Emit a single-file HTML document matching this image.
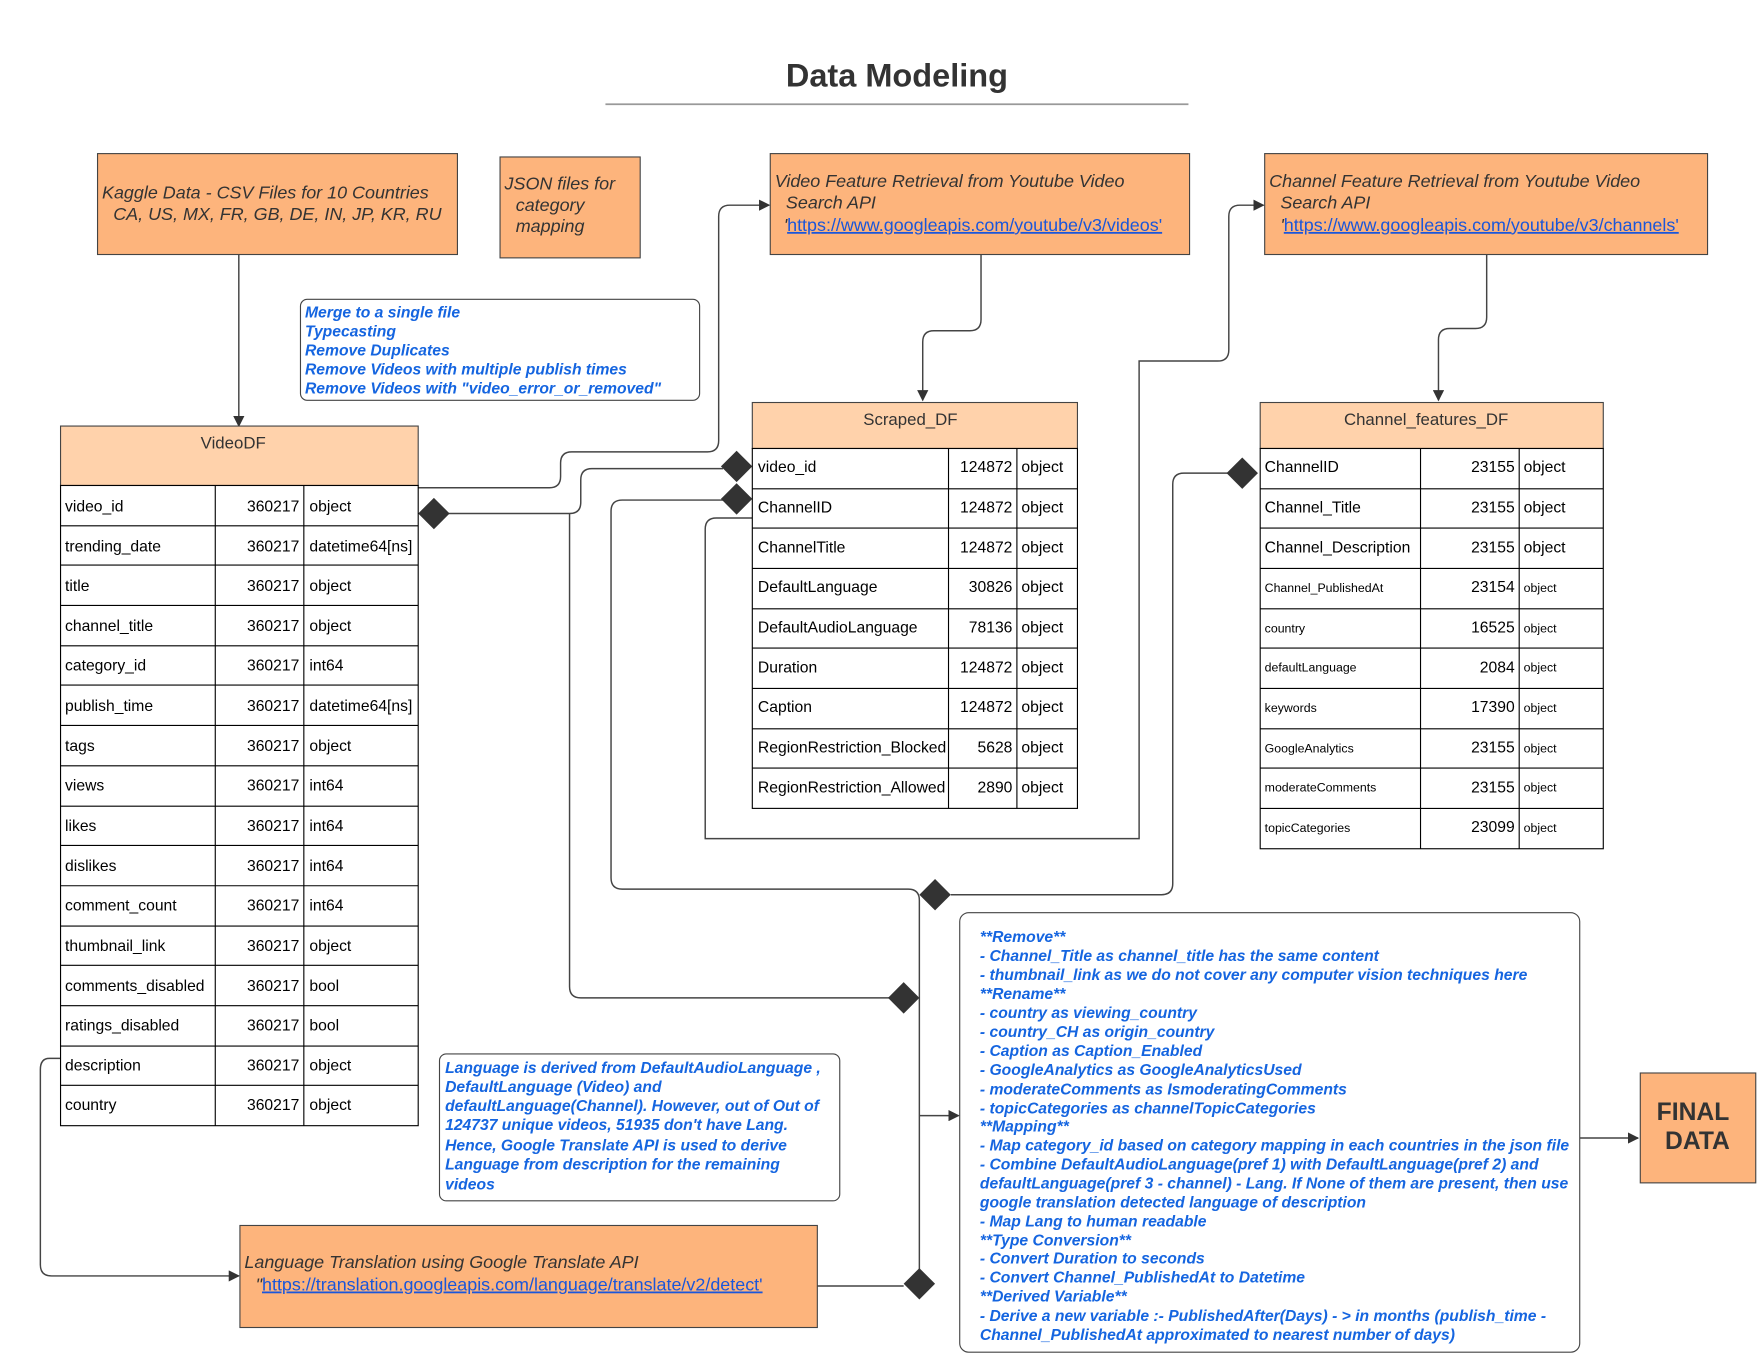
<!DOCTYPE html>
<html><head><meta charset="utf-8"><style>
html,body{margin:0;padding:0;background:#fff;}
svg{display:block;}
text{font-family:"Liberation Sans",sans-serif;}
.t{font-size:14px;fill:#000;}
.s{font-size:11px;fill:#000;}
.n{font-size:14px;fill:#1565e0;font-weight:bold;font-style:italic;}
.b{font-size:16px;fill:#333;font-style:italic;}
.l{font-size:16px;fill:#1a56db;text-decoration:underline;font-style:normal;}
.ln{fill:none;stroke:#444;stroke-width:1.3;}
</style></head><body>
<svg width="1758" height="1358" viewBox="0 0 1568 1211.2" preserveAspectRatio="none">
<defs><marker id="a" markerWidth="10" markerHeight="10" refX="9" refY="5" orient="auto" markerUnits="userSpaceOnUse"><path d="M0,0 L10,5 L0,10z" fill="#333"/></marker></defs>
<text x="800" y="77" text-anchor="middle" font-size="29" font-weight="bold" fill="#333">Data Modeling</text>
<line x1="540" y1="93" x2="1060" y2="93" stroke="#999" stroke-width="1.5"/>

<!-- top boxes -->
<rect x="87" y="137" width="321" height="90" fill="#fdb47c" stroke="#444"/>
<text class="b" x="91" y="177">Kaggle Data - CSV Files for 10 Countries</text>
<text class="b" x="101" y="196">CA, US, MX, FR, GB, DE, IN, JP, KR, RU</text>
<rect x="446" y="140" width="125" height="90" fill="#fdb47c" stroke="#444"/>
<text class="b" x="450" y="169">JSON files  for</text>
<text class="b" x="460" y="188">category</text>
<text class="b" x="460" y="207">mapping</text>
<rect x="687" y="137" width="374" height="90" fill="#fdb47c" stroke="#444"/>
<text class="b" x="691" y="167">Video Feature Retrieval from Youtube  Video</text>
<text class="b" x="701" y="186">Search API</text>
<text class="b" x="699" y="206">'<tspan class="l">https://www.googleapis.com/youtube/v3/videos'</tspan></text>
<rect x="1128" y="137" width="395" height="90" fill="#fdb47c" stroke="#444"/>
<text class="b" x="1132" y="167">Channel Feature Retrieval from Youtube  Video</text>
<text class="b" x="1142" y="186">Search API</text>
<text class="b" x="1142" y="206">'<tspan class="l">https://www.googleapis.com/youtube/v3/channels'</tspan></text>

<!-- merge note -->
<rect x="268" y="267" width="356" height="90" rx="6" fill="#fff" stroke="#444"/>
<text class="n" x="272" y="283">Merge to a single file</text>
<text class="n" x="272" y="300">Typecasting</text>
<text class="n" x="272" y="317">Remove Duplicates</text>
<text class="n" x="272" y="334">Remove Videos with multiple publish times</text>
<text class="n" x="272" y="351">Remove Videos with "video_error_or_removed"</text>

<!-- connectors -->
<path class="ln" d="M213,227 V380" marker-end="url(#a)"/>
<path class="ln" d="M373,435 H490 Q500,435 500,425 V413 Q500,403 510,403 H631 Q641,403 641,393 V193 Q641,183 651,183 H686" marker-end="url(#a)"/>
<path class="ln" d="M400,458 H508 Q518,458 518,448 V428 Q518,418 528,418 H645"/>
<path class="ln" d="M508,458 V880 Q508,890 518,890 H793"/>
<path class="ln" d="M645,446 H555 Q545,446 545,456 V783 Q545,793 555,793 H810 Q820,793 820,803 V1147"/>
<path class="ln" d="M848,798 H1036 Q1046,798 1046,788 V432 Q1046,422 1056,422 H1095"/>
<path class="ln" d="M671,462 H639 Q629,462 629,472 V748 H1016 V322 H1086 Q1096,322 1096,312 V193 Q1096,183 1106,183 H1127" marker-end="url(#a)"/>
<path class="ln" d="M875,227 V285 Q875,295 865,295 H833 Q823,295 823,305 V357" marker-end="url(#a)"/>
<path class="ln" d="M1326,227 V283 Q1326,293 1316,293 H1293 Q1283,293 1283,303 V357" marker-end="url(#a)"/>
<path class="ln" d="M54,944 H44 Q36,944 36,954 V1128 Q36,1138 46,1138 H213" marker-end="url(#a)"/>
<path class="ln" d="M729,1147 H806"/>
<path class="ln" d="M820,995 H855" marker-end="url(#a)"/>
<path class="ln" d="M1409,1015 H1461" marker-end="url(#a)"/>
<g fill="#333">
<path d="M387,444 L401,458 L387,472 L373,458z"/>
<path d="M657,402 L671,416 L657,430 L643,416z"/>
<path d="M657,431 L671,445 L657,459 L643,445z"/>
<path d="M1108,408 L1122,422 L1108,436 L1094,422z"/>
<path d="M834,784 L848,798 L834,812 L820,798z"/>
<path d="M806,876 L820,890 L806,904 L792,890z"/>
<path d="M820,1131 L834,1145 L820,1159 L806,1145z"/>
</g>

<!-- VideoDF -->
<rect x="54" y="380" width="319" height="53" fill="#ffd2ab" stroke="#444"/>
<text x="208" y="400" text-anchor="middle" font-size="15" fill="#333">VideoDF</text>
<g stroke="#000" stroke-width="1" fill="none">
<rect x="54" y="433" width="319" height="571" fill="#fff"/>
<line x1="192" y1="433" x2="192" y2="1004"/><line x1="271" y1="433" x2="271" y2="1004"/>
<path d="M54,469H373M54,504H373M54,540H373M54,576H373M54,611H373M54,647H373M54,683H373M54,719H373M54,754H373M54,790H373M54,826H373M54,861H373M54,897H373M54,933H373M54,968H373"/>
</g>
<text class="t" x="58" y="456">video_id</text><text class="t" x="58" y="492">trending_date</text><text class="t" x="58" y="527">title</text><text class="t" x="58" y="563">channel_title</text><text class="t" x="58" y="598">category_id</text><text class="t" x="58" y="634">publish_time</text><text class="t" x="58" y="670">tags</text><text class="t" x="58" y="705">views</text><text class="t" x="58" y="741">likes</text><text class="t" x="58" y="777">dislikes</text><text class="t" x="58" y="812">comment_count</text><text class="t" x="58" y="848">thumbnail_link</text><text class="t" x="58" y="884">comments_disabled</text><text class="t" x="58" y="919">ratings_disabled</text><text class="t" x="58" y="955">description</text><text class="t" x="58" y="990">country</text>
<g text-anchor="end">
<text class="t" x="267" y="456">360217</text><text class="t" x="267" y="492">360217</text><text class="t" x="267" y="527">360217</text><text class="t" x="267" y="563">360217</text><text class="t" x="267" y="598">360217</text><text class="t" x="267" y="634">360217</text><text class="t" x="267" y="670">360217</text><text class="t" x="267" y="705">360217</text><text class="t" x="267" y="741">360217</text><text class="t" x="267" y="777">360217</text><text class="t" x="267" y="812">360217</text><text class="t" x="267" y="848">360217</text><text class="t" x="267" y="884">360217</text><text class="t" x="267" y="919">360217</text><text class="t" x="267" y="955">360217</text><text class="t" x="267" y="990">360217</text>
</g>
<text class="t" x="276" y="456">object</text><text class="t" x="276" y="492">datetime64[ns]</text><text class="t" x="276" y="527">object</text><text class="t" x="276" y="563">object</text><text class="t" x="276" y="598">int64</text><text class="t" x="276" y="634">datetime64[ns]</text><text class="t" x="276" y="670">object</text><text class="t" x="276" y="705">int64</text><text class="t" x="276" y="741">int64</text><text class="t" x="276" y="777">int64</text><text class="t" x="276" y="812">int64</text><text class="t" x="276" y="848">object</text><text class="t" x="276" y="884">bool</text><text class="t" x="276" y="919">bool</text><text class="t" x="276" y="955">object</text><text class="t" x="276" y="990">object</text>

<!-- Scraped_DF -->
<rect x="671" y="359" width="290" height="41" fill="#ffd2ab" stroke="#444"/>
<text x="812" y="379" text-anchor="middle" font-size="15" fill="#333">Scraped_DF</text>
<g stroke="#000" stroke-width="1" fill="none">
<rect x="671" y="400" width="290" height="321" fill="#fff"/>
<line x1="846" y1="400" x2="846" y2="721"/><line x1="907" y1="400" x2="907" y2="721"/>
<path d="M671,436H961M671,471H961M671,507H961M671,543H961M671,578H961M671,614H961M671,650H961M671,685H961"/>
</g>
<text class="t" x="676" y="421">video_id</text><text class="t" x="676" y="457">ChannelID</text><text class="t" x="676" y="493">ChannelTitle</text><text class="t" x="676" y="528">DefaultLanguage</text><text class="t" x="676" y="564">DefaultAudioLanguage</text><text class="t" x="676" y="600">Duration</text><text class="t" x="676" y="635">Caption</text><text class="t" x="676" y="671">RegionRestriction_Blocked</text><text class="t" x="676" y="707">RegionRestriction_Allowed</text>
<g text-anchor="end">
<text class="t" x="903" y="421">124872</text><text class="t" x="903" y="457">124872</text><text class="t" x="903" y="493">124872</text><text class="t" x="903" y="528">30826</text><text class="t" x="903" y="564">78136</text><text class="t" x="903" y="600">124872</text><text class="t" x="903" y="635">124872</text><text class="t" x="903" y="671">5628</text><text class="t" x="903" y="707">2890</text>
</g>
<text class="t" x="911" y="421">object</text><text class="t" x="911" y="457">object</text><text class="t" x="911" y="493">object</text><text class="t" x="911" y="528">object</text><text class="t" x="911" y="564">object</text><text class="t" x="911" y="600">object</text><text class="t" x="911" y="635">object</text><text class="t" x="911" y="671">object</text><text class="t" x="911" y="707">object</text>

<!-- Channel_features_DF -->
<rect x="1124" y="359" width="306" height="41" fill="#ffd2ab" stroke="#444"/>
<text x="1272" y="379" text-anchor="middle" font-size="15" fill="#333">Channel_features_DF</text>
<g stroke="#000" stroke-width="1" fill="none">
<rect x="1124" y="400" width="306" height="357" fill="#fff"/>
<line x1="1267" y1="400" x2="1267" y2="757"/><line x1="1355" y1="400" x2="1355" y2="757"/>
<path d="M1124,436H1430M1124,471H1430M1124,507H1430M1124,543H1430M1124,578H1430M1124,614H1430M1124,650H1430M1124,685H1430M1124,721H1430"/>
</g>
<text class="t" x="1128" y="421">ChannelID</text><text class="t" x="1128" y="457">Channel_Title</text><text class="t" x="1128" y="493">Channel_Description</text>
<text class="s" x="1128" y="528">Channel_PublishedAt</text><text class="s" x="1128" y="564">country</text><text class="s" x="1128" y="599">defaultLanguage</text><text class="s" x="1128" y="635">keywords</text><text class="s" x="1128" y="671">GoogleAnalytics</text><text class="s" x="1128" y="706">moderateComments</text><text class="s" x="1128" y="742">topicCategories</text>
<g text-anchor="end">
<text class="t" x="1351" y="421">23155</text><text class="t" x="1351" y="457">23155</text><text class="t" x="1351" y="493">23155</text><text class="t" x="1351" y="528">23154</text><text class="t" x="1351" y="564">16525</text><text class="t" x="1351" y="600">2084</text><text class="t" x="1351" y="635">17390</text><text class="t" x="1351" y="671">23155</text><text class="t" x="1351" y="707">23155</text><text class="t" x="1351" y="742">23099</text>
</g>
<text class="t" x="1359" y="421">object</text><text class="t" x="1359" y="457">object</text><text class="t" x="1359" y="493">object</text>
<text class="s" x="1359" y="528">object</text><text class="s" x="1359" y="564">object</text><text class="s" x="1359" y="599">object</text><text class="s" x="1359" y="635">object</text><text class="s" x="1359" y="671">object</text><text class="s" x="1359" y="706">object</text><text class="s" x="1359" y="742">object</text>

<!-- language note -->
<rect x="392" y="940" width="357" height="131" rx="6" fill="#fff" stroke="#444"/>
<text class="n" x="397" y="957">Language  is derived from DefaultAudioLanguage ,</text>
<text class="n" x="397" y="974">DefaultLanguage (Video) and</text>
<text class="n" x="397" y="991">defaultLanguage(Channel). However, out of  Out of</text>
<text class="n" x="397" y="1008">124737 unique videos, 51935 don't have Lang.</text>
<text class="n" x="397" y="1026">Hence,  Google Translate API is used to derive</text>
<text class="n" x="397" y="1043">Language from description for the remaining</text>
<text class="n" x="397" y="1061">videos</text>

<!-- translation box -->
<rect x="214" y="1093" width="515" height="91" fill="#fdb47c" stroke="#444"/>
<text class="b" x="218" y="1131">Language Translation using Google Translate API</text>
<text class="b" x="228" y="1151">"<tspan class="l">https://translation.googleapis.com/language/translate/v2/detect'</tspan></text>

<!-- big note -->
<rect x="856" y="814" width="553" height="392" rx="8" fill="#fff" stroke="#444"/>
<text class="n" x="874" y="840">**Remove**</text>
<text class="n" x="874" y="857">- Channel_Title as channel_title has the same content</text>
<text class="n" x="874" y="874">- thumbnail_link as we do not cover any computer vision techniques here</text>
<text class="n" x="874" y="891">**Rename**</text>
<text class="n" x="874" y="908">- country as viewing_country</text>
<text class="n" x="874" y="925">- country_CH as origin_country</text>
<text class="n" x="874" y="942">- Caption as Caption_Enabled</text>
<text class="n" x="874" y="959">- GoogleAnalytics as GoogleAnalyticsUsed</text>
<text class="n" x="874" y="976">- moderateComments as IsmoderatingComments</text>
<text class="n" x="874" y="993">- topicCategories as channelTopicCategories</text>
<text class="n" x="874" y="1009">**Mapping**</text>
<text class="n" x="874" y="1026">- Map category_id based on category mapping in each countries in the json file</text>
<text class="n" x="874" y="1043">- Combine DefaultAudioLanguage(pref 1)  with DefaultLanguage(pref 2) and</text>
<text class="n" x="874" y="1060">defaultLanguage(pref 3 - channel) - Lang. If None of them are present, then use</text>
<text class="n" x="874" y="1077">google translation detected language of description</text>
<text class="n" x="874" y="1094">- Map Lang to human readable</text>
<text class="n" x="874" y="1111">**Type Conversion**</text>
<text class="n" x="874" y="1127">- Convert Duration to seconds</text>
<text class="n" x="874" y="1144">- Convert Channel_PublishedAt to Datetime</text>
<text class="n" x="874" y="1161">**Derived Variable**</text>
<text class="n" x="874" y="1178">- Derive a new variable :- PublishedAfter(Days) - &gt; in months (publish_time -</text>
<text class="n" x="874" y="1195">Channel_PublishedAt approximated to nearest number of days)</text>

<rect x="1463" y="957" width="103" height="98" fill="#fdb47c" stroke="#444"/>
<text x="1510" y="999" text-anchor="middle" font-size="22" font-weight="bold" fill="#333">FINAL</text>
<text x="1514" y="1025" text-anchor="middle" font-size="22" font-weight="bold" fill="#333">DATA</text>
</svg>
</body></html>
